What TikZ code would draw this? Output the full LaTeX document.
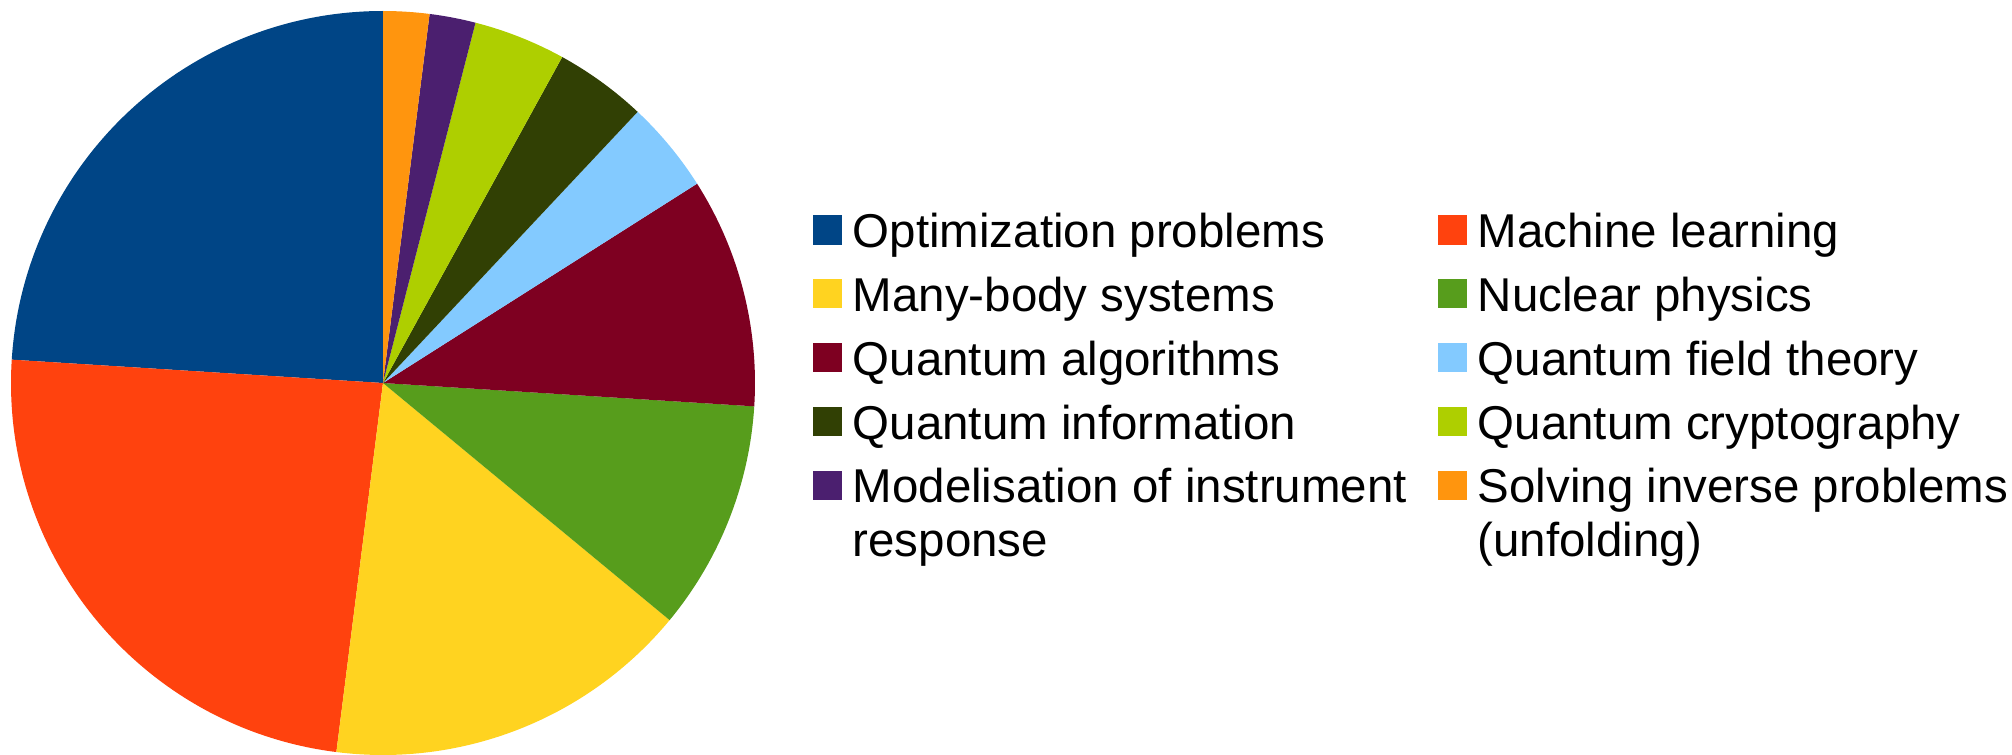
\documentclass[tikz,border=0pt]{standalone}
\usepackage{fontspec}
\setmainfont{Liberation Sans}

\definecolor{optblue}{HTML}{004586}
\definecolor{mlred}{HTML}{FF420E}
\definecolor{manyyellow}{HTML}{FFD320}
\definecolor{nuclgreen}{HTML}{579D1C}
\definecolor{algmaroon}{HTML}{7E0021}
\definecolor{qftblue}{HTML}{83CAFF}
\definecolor{infogreen}{HTML}{314004}
\definecolor{cryptolime}{HTML}{AECF00}
\definecolor{modpurple}{HTML}{4B1F6F}
\definecolor{invorange}{HTML}{FF950E}
% keeps the baseline on the first line of a wrapped entry
\newcommand{\legendtext}[1]{\begin{tabular}[t]{@{}l@{}}#1\end{tabular}}

\begin{document}
\begin{tikzpicture}[x=0.01cm, y=0.01cm,
		key/.style={fill=#1, minimum size=0.29cm, inner sep=0pt},
		entry/.style={anchor=base west, inner sep=0pt,
			font=\fontsize{13.5}{15.2}\selectfont}]
	\useasboundingbox (-383,-371) rectangle (1629,383);
	% slices, counter-clockwise from the top (1% = 3.6 degrees)
	\foreach \from/\to/\col in {90/176.4/optblue, 176.4/262.8/mlred,
			262.8/320.4/manyyellow, 320.4/356.4/nuclgreen, 356.4/392.4/algmaroon,
			392.4/406.8/qftblue, 406.8/421.2/infogreen, 421.2/435.6/cryptolime,
			435.6/442.8/modpurple, 442.8/450/invorange}
		\fill[\col] (0,0) -- (\from:372) arc[start angle=\from, end angle=\to, radius=372] -- cycle;
	% legend, two columns
	\foreach \x/\y/\col/\txt [count=\i] in {
			444.8/153/optblue/{Optimization problems},
			1069.8/153/mlred/{Machine learning},
			444.8/89.2/manyyellow/{Many-body systems},
			1069.8/89.2/nuclgreen/{Nuclear physics},
			444.8/25.4/algmaroon/{Quantum algorithms},
			1069.8/25.4/qftblue/{Quantum field theory},
			444.8/-38.4/infogreen/{Quantum information},
			1069.8/-38.4/cryptolime/{Quantum cryptography},
			444.8/-102.2/modpurple/{Modelisation of instrument\\response},
			1069.8/-102.2/invorange/{Solving inverse problems\\(unfolding)}}
	{
		\node[key=\col] (key\i) at (\x,\y) {};
		\node[entry] (entry\i) at ([xshift=0.242cm, yshift=-0.177cm]key\i.center) {\legendtext{\txt}};
	}
\end{tikzpicture}
\end{document}
